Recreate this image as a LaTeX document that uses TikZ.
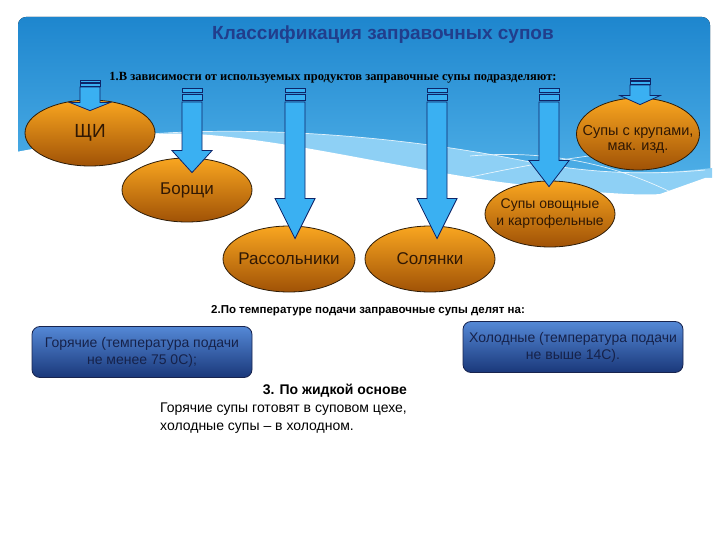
\documentclass[tikz,border=0pt]{standalone}
\usepackage{fontspec}
\setmainfont{Liberation Sans}
\newfontfamily\oddserif{Liberation Serif}
\usetikzlibrary{shapes.geometric,positioning}

\definecolor{bgtop}{RGB}{30,134,206}
\definecolor{bglow}{RGB}{96,190,240}
\definecolor{bgband}{RGB}{142,208,245}
\definecolor{titleblue}{RGB}{33,62,140}
\definecolor{souptop}{RGB}{249,166,32}
\definecolor{soupbot}{RGB}{160,82,6}
\definecolor{soupline}{RGB}{45,28,8}
\definecolor{souptext}{RGB}{48,24,4}
\definecolor{arrowfill}{RGB}{58,176,242}
\definecolor{arrowline}{RGB}{14,36,104}
\definecolor{boxtop}{RGB}{84,136,214}
\definecolor{boxbot}{RGB}{26,56,122}
\definecolor{boxline}{RGB}{24,36,78}
\definecolor{boxtext}{RGB}{22,34,74}

% striped block arrow: top coordinate, target node, depth into node, head length, stripe unit
\newcommand{\stripearrow}[5]{%
  \coordinate (tipbase) at (#1 |- #2.north);
  \coordinate (tip) at ([yshift=-#3pt]tipbase);
  \coordinate (neck) at ([yshift=#4pt]tip);
  \draw[arrowpart] ([xshift=-10pt,yshift={-3.5*#5pt}]#1) -- ([xshift=10pt,yshift={-3.5*#5pt}]#1)
    -- ([xshift=10pt]neck) -- ([xshift=20pt]neck) -- (tip) -- ([xshift=-20pt]neck)
    -- ([xshift=-10pt]neck) -- cycle;
  \draw[arrowpart] ([xshift=-10pt]#1) rectangle ([xshift=10pt,yshift={-#5pt}]#1);
  \draw[arrowpart] ([xshift=-10pt,yshift={-1.5*#5pt}]#1) rectangle ([xshift=10pt,yshift={-3*#5pt}]#1);
}

\begin{document}
\begin{tikzpicture}[x=1pt,y=-1pt,
    soup/.style={ellipse,draw=soupline,line width=0.8pt,top color=souptop,bottom color=soupbot,
      minimum width=130pt,minimum height=66pt,inner sep=0pt},
    soupname/.style={text=souptext,align=center,font=\fontsize{17}{19}\selectfont},
    arrowpart/.style={draw=arrowline,fill=arrowfill,line width=0.8pt,line join=miter},
    servebox/.style={draw=boxline,line width=0.8pt,rounded corners=8pt,top color=boxtop,bottom color=boxbot,
      minimum width=220pt,minimum height=51pt},
    servetext/.style={align=center,text=boxtext,font=\fontsize{14}{17}\selectfont},
    wisp/.style={white,line width=0.7pt,opacity=0.8}]
  \useasboundingbox (0,0) rectangle (720,540);

  \fill[top color=bgtop,bottom color=bglow,rounded corners=8pt] (18,240) -- (18,17) -- (710,17) -- (710,240) -- cycle;
  \fill[bgband] (150,134) .. controls (260,126) and (400,136) .. (520,160)
    .. controls (600,176) and (660,174) .. (712,168) -- (712,245) -- (150,245) -- cycle;
  \fill[white] (16,152) .. controls (80,140) and (150,130) .. (210,135)
    .. controls (300,143) and (390,166) .. (500,182) .. controls (580,192) and (640,196) .. (660,194)
    -- (705,178) -- (714,178) -- (714,250) -- (16,250) -- cycle;
  \draw[wisp] (150,134) .. controls (260,126) and (400,136) .. (520,160)
    .. controls (600,176) and (660,174) .. (705,170);
  \draw[wisp] (440,184) .. controls (500,170) and (560,158) .. (640,150);
  \draw[wisp] (470,156) .. controls (540,150) and (620,160) .. (700,208);

  \node[font=\bfseries\fontsize{19}{22}\selectfont,text=titleblue] (title) at (383,35) {Классификация заправочных супов};
  \node[font=\oddserif\bfseries\fontsize{12.5}{14}\selectfont] (bytype) at (333,78)
    {1.В зависимости от используемых продуктов заправочные супы подразделяют:};

  \node[soup,label={[soupname,font=\fontsize{19}{21}\selectfont]center:ЩИ}] (shchi) at (90,133) {};
  \node[soup,minimum height=64pt,label={[soupname]center:Борщи}] (borsch) at (187,190) {};
  \node[soup,minimum width=132pt,label={[soupname]center:Рассольники}] (rass) at (289,259) {};
  \node[soup,label={[soupname]center:Солянки}] (solyanka) at (430,259) {};
  \node[soup,minimum height=66pt,label={[soupname,font=\fontsize{14}{17}\selectfont]center:Супы овощные\\и картофельные}] (veg) at (550,214) {};
  \node[soup,minimum width=123pt,minimum height=72pt,label={[soupname,font=\fontsize{14.5}{15}\selectfont,yshift=-5pt]center:Супы с крупами,\\мак. изд.}] (krupa) at (638,134) {};

  \coordinate (a1) at (90,80);
  \coordinate (a2) at (192,88);
  \coordinate (a3) at (295,88);
  \coordinate (a4) at (437,88);
  \coordinate (a5) at (549,88);
  \coordinate (a6) at (640,78);
  \stripearrow{a1}{shchi}{11}{8}{2}
  \stripearrow{a2}{borsch}{15}{22}{4}
  \stripearrow{a3}{rass}{13}{40}{4}
  \stripearrow{a4}{solyanka}{13}{40}{4}
  \stripearrow{a5}{veg}{6}{26}{4}
  \stripearrow{a6}{krupa}{7}{9}{2}

  \node[font=\bfseries\fontsize{11.5}{14}\selectfont] (bytemp) at (368,311) {2.По температуре подачи заправочные супы делят на:};
  \node[servebox,label={[servetext]center:Горячие (температура подачи\\не менее 75 0С);}] (hot) at (142,352) {};
  \node[servebox,label={[servetext]center:Холодные (температура подачи\\не выше 14С).}] (cold) at (573,347) {};

  \node[font=\bfseries\fontsize{14}{17}\selectfont,anchor=east,inner sep=1pt] (liquid) at (408,391) {3. По жидкой основе};
  \node[below=3pt of liquid.south east,anchor=north east,align=left,inner sep=1pt,font=\fontsize{14}{18}\selectfont] (liqtext)
    {Горячие супы готовят в суповом цехе,\\холодные супы – в холодном.};
\end{tikzpicture}
\end{document}
